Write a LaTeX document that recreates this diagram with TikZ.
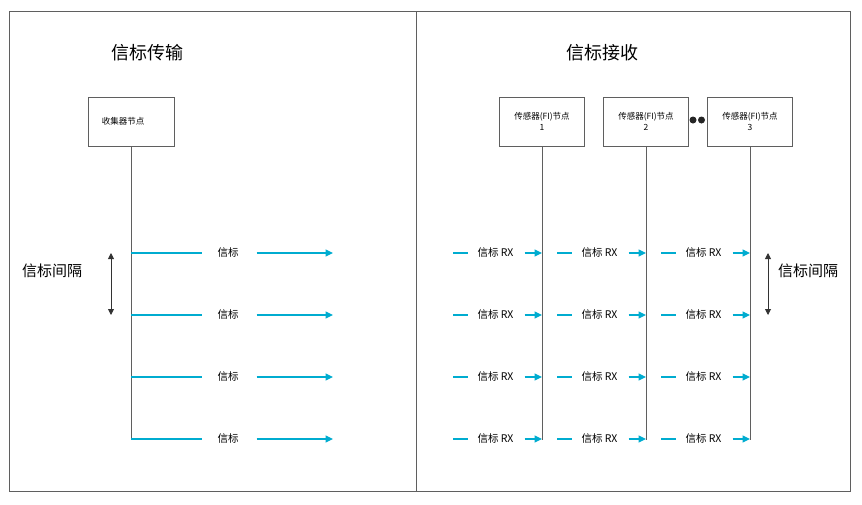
\documentclass[tikz,border=0pt]{standalone}
\usepackage{fontspec}
\setmainfont{Noto Sans CJK SC}
\usetikzlibrary{arrows.meta,positioning}
\definecolor{beaconcyan}{RGB}{0,172,208}
\definecolor{framegray}{RGB}{95,95,95}

\begin{document}
\begin{tikzpicture}[x=1pt,y=-1pt,
	frame/.style={draw=framegray,line width=0.8pt},
	nodebox/.style={draw=framegray,line width=0.8pt,minimum height=49pt,inner sep=1pt,font=\fontsize{8.5}{11.5}\selectfont,align=center},
	lifeline/.style={draw=framegray,line width=0.8pt},
	beacon/.style={draw=beaconcyan,line width=1.1pt},
	beaconarrow/.style={beacon,-{Triangle[length=7.5pt,width=7pt]}},
	beaconlabel/.style={font=\fontsize{10.5}{11}\selectfont,inner sep=1pt},
	title/.style={font=\fontsize{18}{19}\selectfont},
	interval/.style={draw=black!80,line width=0.9pt,{Triangle[length=6pt,width=6pt]}-{Triangle[length=6pt,width=6pt]}}
]
	\useasboundingbox (0,0) rectangle (862,504);
	% frame of the two halves
	\draw[frame] (9,11) rectangle (850,491);
	\draw[frame] (416,11) -- (416,491);

	% titles
	\node[title] (txtitle) at (147,53) {信标传输};
	\node[title] (rxtitle) at (602,53) {信标接收};

	% collector side
	\node[nodebox,minimum width=86pt] (collector) at (131,121.5) {收集器节点\hspace*{16pt}};
	\coordinate (collectorend) at (131,439);
	\draw[lifeline] (collector.south) -- (collectorend);
	\foreach \y [count=\i] in {253,315,377,439} {
		\coordinate (tx\i) at (131,\y);
		\coordinate (txend\i) at (333,\y);
		\node[beaconlabel] (txlabel\i) at (228,\y) {信标};
		\draw[beacon,shorten >=14pt] (tx\i) -- (txlabel\i.west);
		\draw[beaconarrow,shorten <=17pt] (txlabel\i.east) -- (txend\i);
	}
	\coordinate (txgapa) at (111,253);
	\coordinate (txgapb) at (111,315);
	\draw[interval] (txgapa) -- (txgapb);
	\node[font=\fontsize{15}{16}\selectfont] (txgap) at (52,271) {信标间隔};

	% sensor side
	\foreach \x/\n in {542/1,646/2,750/3} {
		\node[nodebox,minimum width=85pt] (sensor\n) at (\x,121.5) {传感器(FI)节点\\\n};
		\coordinate (sensorend\n) at (\x,440);
		\draw[lifeline] (sensor\n.south) -- (sensorend\n);
		\foreach \y [count=\i] in {253,315,377,439} {
			\coordinate (rx\n\i) at (\x,\y);
			\coordinate (rxstart\n\i) at (\x-89,\y);
			\node[beaconlabel] (rxlabel\n\i) at (\x-46.5,\y) {信标 RX};
			\draw[beacon,shorten >=8pt] (rxstart\n\i) -- (rxlabel\n\i.west);
			\draw[beaconarrow,shorten <=10pt] (rxlabel\n\i.east) -- (rx\n\i);
		}
	}
	\fill[black!85] (693,120) circle (3.5pt) (701.5,120) circle (3.5pt);
	\coordinate (rxgapa) at (768,253);
	\coordinate (rxgapb) at (768,315);
	\draw[interval] (rxgapa) -- (rxgapb);
	\node[font=\fontsize{15}{16}\selectfont] (rxgap) at (808,271) {信标间隔};
\end{tikzpicture}
\end{document}
